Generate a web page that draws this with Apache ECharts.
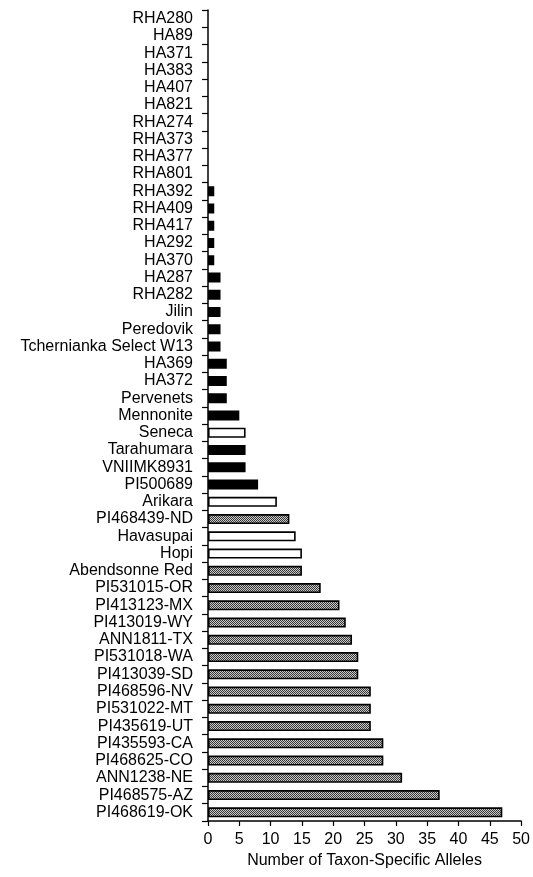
<!DOCTYPE html>
<html><head><meta charset="utf-8">
<script src="https://cdn.jsdelivr.net/npm/echarts@6/dist/echarts.min.js"></script>
<style>html,body{margin:0;padding:0;background:#fff}#c{width:533px;height:877px}</style>
</head><body><div id="c"></div>
<script>
var categories = ["RHA280","HA89","HA371","HA383","HA407","HA821","RHA274","RHA373","RHA377","RHA801","RHA392","RHA409","RHA417","HA292","HA370","HA287","RHA282","Jilin","Peredovik","Tchernianka Select W13","HA369","HA372","Pervenets","Mennonite","Seneca","Tarahumara","VNIIMK8931","PI500689","Arikara","PI468439-ND","Havasupai","Hopi","Abendsonne Red","PI531015-OR","PI413123-MX","PI413019-WY","ANN1811-TX","PI531018-WA","PI413039-SD","PI468596-NV","PI531022-MT","PI435619-UT","PI435593-CA","PI468625-CO","ANN1238-NE","PI468575-AZ","PI468619-OK"];
var values = [0,0,0,0,0,0,0,0,0,0,1,1,1,1,1,2,2,2,2,2,3,3,3,5,6,6,6,8,11,13,14,15,15,18,21,22,23,24,24,26,26,26,28,28,31,37,47];
var groups = ["c","c","c","c","c","c","c","c","c","c","c","c","c","c","c","c","c","c","c","c","c","c","c","c","w","c","c","c","w","h","w","w","h","h","h","h","h","h","h","h","h","h","h","h","h","h","h"];
var xTicks = [0,5,10,15,20,25,30,35,40,45,50];

var pc = document.createElement('canvas'); pc.width = 2; pc.height = 2;
var g = pc.getContext('2d');
g.fillStyle = '#c8c8c8'; g.fillRect(0,0,2,2);
g.fillStyle = '#383838'; g.fillRect(0,0,1,1); g.fillRect(1,1,1,1);
var fills = {c:'#000', w:'#fff', h:{image:pc, repeat:'repeat'}};

var data = values.map(function(v,i){
  return {value:v, itemStyle:{color:fills[groups[i]], borderColor:'#000', borderWidth: v>0?1.6:0}};
});
var font = '"Liberation Sans", Arial, Helvetica, sans-serif';
var chart = echarts.init(document.getElementById('c'));
chart.setOption({
  animation:false,
  grid:{left:208, right:9, top:10, bottom:56, containLabel:false},
  xAxis:{type:'value', min:0, max:50, interval:5,
    axisLine:{show:true, lineStyle:{color:'#000', width:1.5}},
    axisTick:{show:true, length:5, lineStyle:{color:'#000', width:1.2}},
    splitLine:{show:false},
    axisLabel:{color:'#000', fontSize:16, fontFamily:font, margin:11},
    name:'Number of Taxon-Specific Alleles', nameLocation:'middle', nameGap:30,
    nameTextStyle:{color:'#000', fontSize:16, fontFamily:font}},
  yAxis:{type:'category', data:categories, inverse:true,
    axisLine:{show:true, lineStyle:{color:'#000', width:1.5}},
    axisTick:{show:true, length:6, alignWithLabel:false, lineStyle:{color:'#000', width:1.2}},
    axisLabel:{color:'#000', fontSize:16, fontFamily:font, margin:15, interval:0}},
  series:[{type:'bar', data:data, barWidth:10}]
});
</script></body></html>
